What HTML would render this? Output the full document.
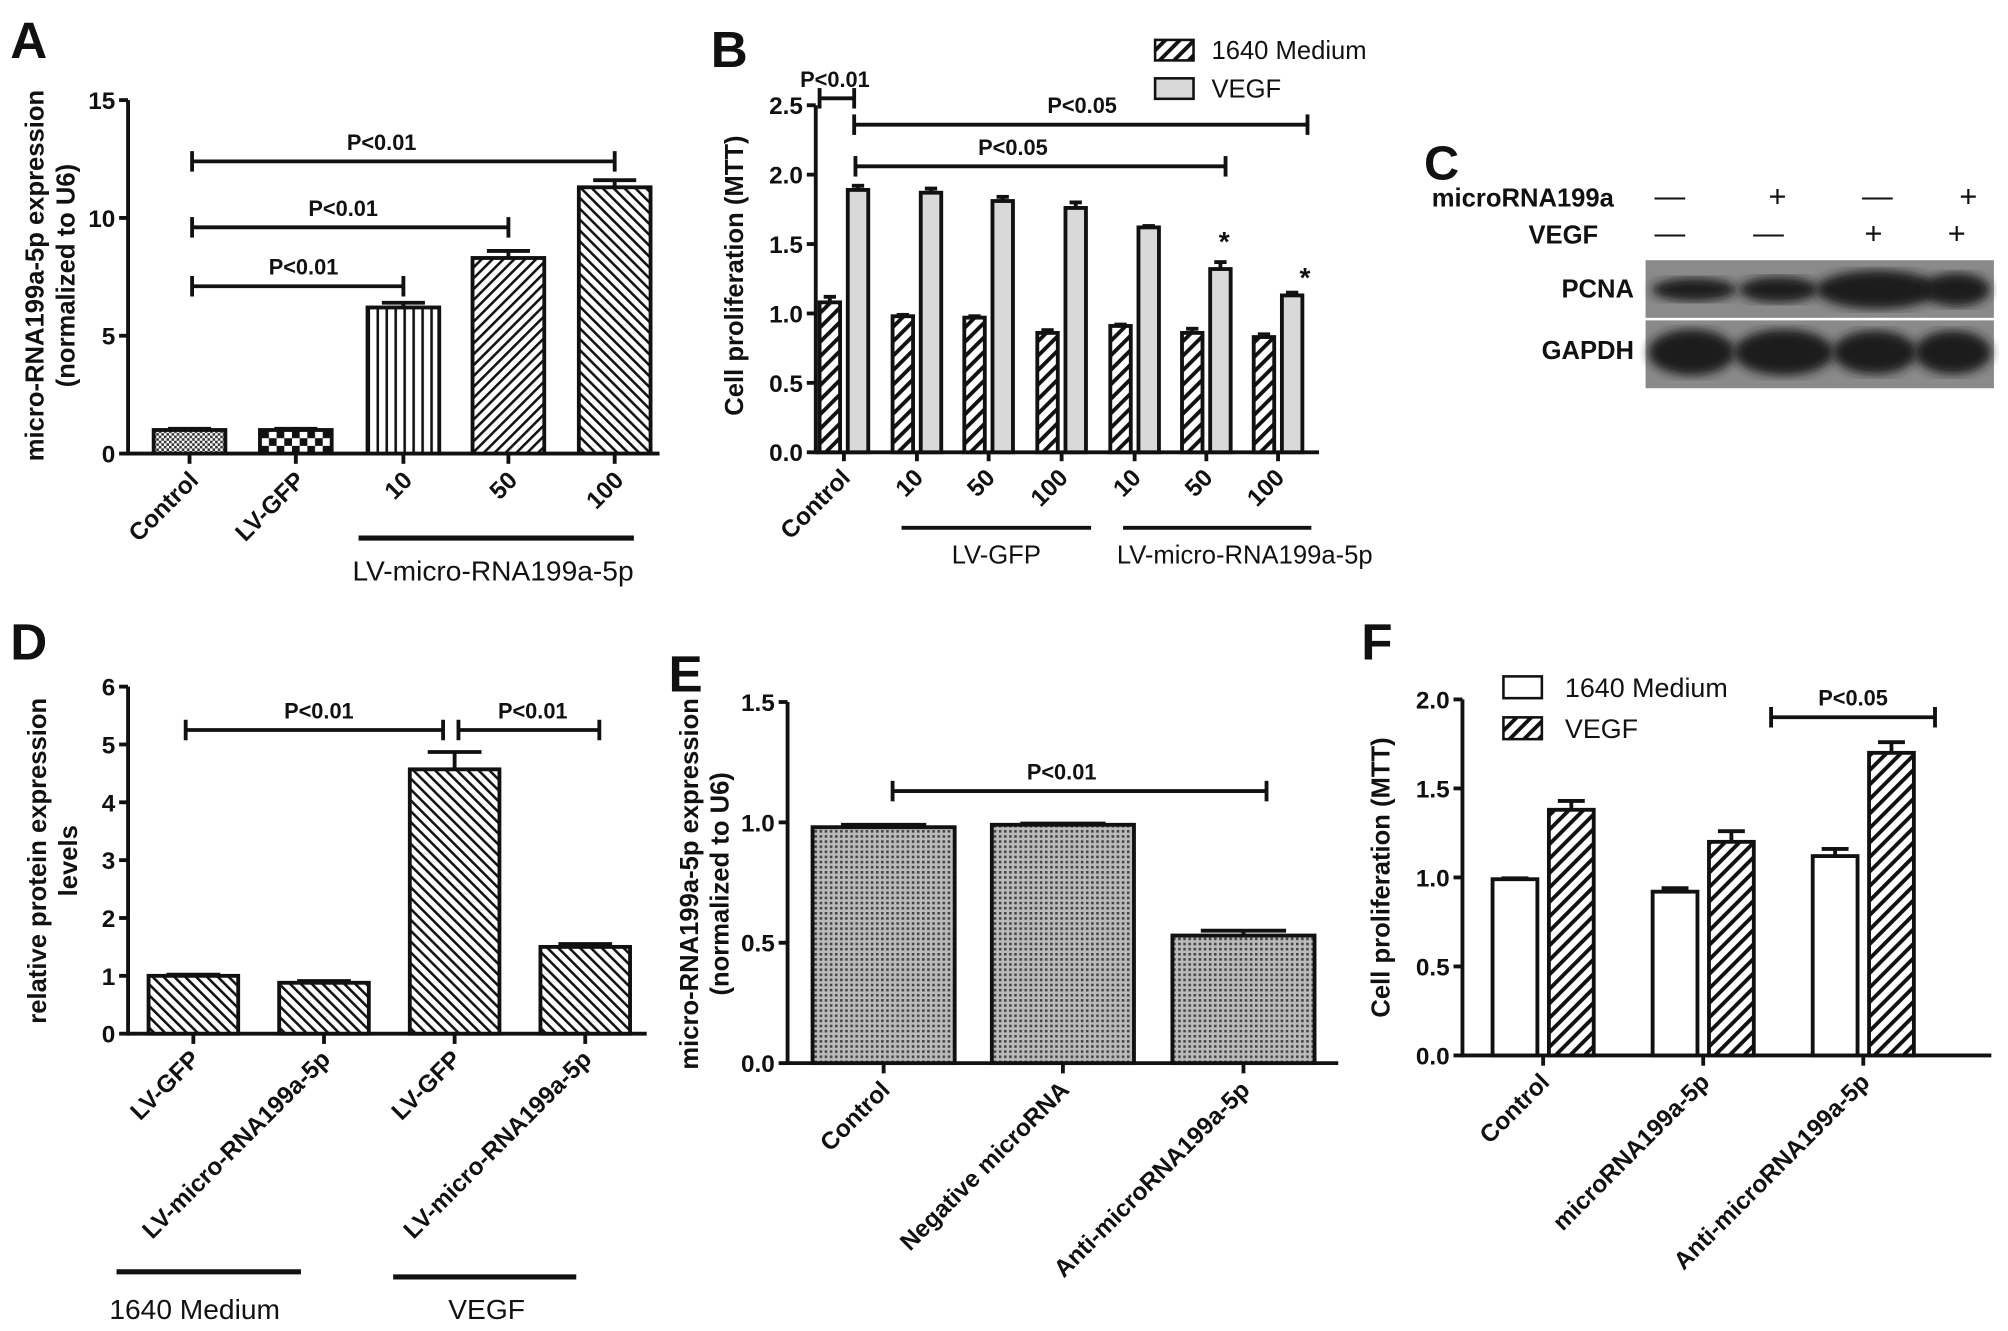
<!DOCTYPE html>
<html><head><meta charset="utf-8"><style>html,body{margin:0;padding:0;background:#fff}svg{display:block}text{font-family:"Liberation Sans",Arial,sans-serif}</style></head>
<body>
<svg id="fig" width="2008" height="1331" viewBox="0 0 1568 1039" xmlns="http://www.w3.org/2000/svg">
<defs>
<pattern id="pChk" width="4" height="4" patternUnits="userSpaceOnUse"><rect width="4" height="4" fill="#fff"/><rect width="2" height="2" fill="#333"/><rect x="2" y="2" width="2" height="2" fill="#333"/></pattern>
<pattern id="pBig" width="12" height="12" patternUnits="userSpaceOnUse"><rect width="12" height="12" fill="#fff"/><rect width="6" height="6" fill="#111"/><rect x="6" y="6" width="6" height="6" fill="#111"/></pattern>
<pattern id="pVert" width="7" height="7" patternUnits="userSpaceOnUse"><rect width="7" height="7" fill="#fff"/><rect width="2" height="7" fill="#111"/></pattern>
<pattern id="pD1" width="6" height="6" patternUnits="userSpaceOnUse" patternTransform="rotate(45)"><rect width="6" height="6" fill="#fff"/><rect width="2" height="6" fill="#111"/></pattern>
<pattern id="pD2" width="6" height="6" patternUnits="userSpaceOnUse" patternTransform="rotate(-45)"><rect width="6" height="6" fill="#fff"/><rect width="2" height="6" fill="#111"/></pattern>
<pattern id="pD3" width="8" height="8" patternUnits="userSpaceOnUse" patternTransform="rotate(45)"><rect width="8" height="8" fill="#fff"/><rect width="3" height="8" fill="#111"/></pattern>
<pattern id="pE" width="4" height="4" patternUnits="userSpaceOnUse"><rect width="4" height="4" fill="#bbb"/><rect width="2" height="2" fill="#444"/></pattern>
<filter id="blur"><feGaussianBlur stdDeviation="4"/></filter>
</defs>
<g id="root"></g>
</svg>
<script>
// Panel A data
const aCats=["Control","LV-GFP","10","50","100"];
const aVals=[1,1,6.2,8.3,11.3];
const aErr=[0.05,0.05,0.2,0.3,0.3];
const aTicks=[0,5,10,15];
// Panel B data
const bCats=["Control","10","50","100","10","50","100"];
const bMedium=[1.08,0.98,0.97,0.86,0.91,0.86,0.83];
const bVEGF=[1.89,1.87,1.81,1.76,1.62,1.32,1.13];
const bMedErr=[0.04,0.01,0.01,0.02,0.01,0.03,0.02];
const bVegErr=[0.03,0.03,0.03,0.04,0.01,0.05,0.02];
const bTicks=[0,0.5,1.0,1.5,2.0,2.5];
// Panel D data
const dCats=["LV-GFP","LV-micro-RNA199a-5p","LV-GFP","LV-micro-RNA199a-5p"];
const dVals=[1,0.88,4.57,1.5];
const dErr=[0.02,0.03,0.3,0.05];
const dTicks=[0,1,2,3,4,5,6];
// Panel E data
const eCats=["Control","Negative microRNA","Anti-microRNA199a-5p"];
const eVals=[0.98,0.99,0.53];
const eErr=[0.01,0.005,0.02];
const eTicks=[0,0.5,1.0,1.5];
// Panel F data
const fCats=["Control","microRNA199a-5p","Anti-microRNA199a-5p"];
const fMedium=[0.99,0.92,1.12];
const fVEGF=[1.38,1.2,1.7];
const fMedErr=[0.005,0.02,0.04];
const fVegErr=[0.05,0.06,0.06];
const fTicks=[0,0.5,1.0,1.5,2.0];

const NS="http://www.w3.org/2000/svg";
const root=document.getElementById('root');
function mk(tag,at,parent,txt){const e=document.createElementNS(NS,tag);for(const k in at)e.setAttribute(k,at[k]);if(txt!==undefined)e.textContent=txt;(parent||root).appendChild(e);return e;}
function line(x1,y1,x2,y2,w,p,name){const e=mk('line',{x1,y1,x2,y2,stroke:'#111','stroke-width':w||3},p);

return e;}
function txt(x,y,s,size,opt,p,name){const e=mk('text',Object.assign({x,y,'font-size':size,'font-weight':'bold',fill:'#111'},opt||{}),p,s);

return e;}
function axis(o){
  const g=mk('g',{});
  
  
  const sy=v=>o.yBot-(v/o.max)*(o.yBot-o.yTop);
  line(o.x0,o.yTop,o.x0,o.yBot+1.5,3,g,'y-axis-line');
  line(o.x0,o.yBot,o.xEnd,o.yBot,3,g,'x-axis-line');
  o.ticks.forEach(t=>{const y=sy(t);line(o.x0-7,y,o.x0,y,3,g,'y-tick');
    txt(o.x0-10,y+7,o.fmt(t),19,{'text-anchor':'end'},g,'y-tick-label');});
  return {sy,g};
}
function bar(g,cx,w,v,err,sy,fill,name){
  const y=sy(v),y0=sy(0);
  const r=mk('rect',{x:cx-w/2,y,width:w,height:y0-y,fill,stroke:'#111','stroke-width':3},g);
  
  
  const ye=sy(v+err);
  line(cx,y,cx,ye,3,g,'error-bar');
  line(cx-w*0.3,ye,cx+w*0.3,ye,3,g,'error-cap');
}
function bracket(g,x1,x2,y,label,lx){
  line(x1,y,x2,y,3,g,'significance-line');
  line(x1,y-8,x1,y+8,3,g,'significance-tick');
  line(x2,y-8,x2,y+8,3,g,'significance-tick');
  txt(lx!==undefined?lx:(x1+x2)/2,y-9,label,17,{'text-anchor':'middle'},g,'significance-label');
}
function rotLabel(g,x,y,s,size){return txt(x,y,s,size||19,{'text-anchor':'end',transform:`rotate(-45 ${x} ${y})`},g,'x-tick-label');}
function ytitle(g,x,y,lines,size){lines.forEach((s,i)=>txt(x+i*24,y,s,size||20,{'text-anchor':'middle',transform:`rotate(-90 ${x+i*24} ${y})`},g,'y-axis-title'));}

// ---------- Panel A ----------
(function(){
  txt(8,45,"A",40,{},root,'panel-label-a');
  const ax=axis({name:'panel-a',x0:100,xEnd:515,yTop:78,yBot:354,max:15,ticks:aTicks,fmt:t=>String(t)});
  const g=ax.g;const cx=[148,231,315,397,480];
  const fills=['url(#pChk)','url(#pBig)','url(#pVert)','url(#pD1)','url(#pD2)'];
  aCats.forEach((c,i)=>{bar(g,cx[i],56,aVals[i],aErr[i],ax.sy,fills[i],'bar-'+c.toLowerCase());
    line(cx[i],354,cx[i],362,3,g,'x-tick');rotLabel(g,cx[i]+8,376,c,19);});
  bracket(g,150,315,ax.sy(7.1),"P<0.01",237);
  bracket(g,150,397,ax.sy(9.6),"P<0.01",268);
  bracket(g,150,480,ax.sy(12.4),"P<0.01",298);
  line(280,420,495,420,4,g,'group-line');
  txt(385,453,"LV-micro-RNA199a-5p",22,{'text-anchor':'middle','font-weight':'normal'},g,'group-label');
  ytitle(g,34,215,["micro-RNA199a-5p expression","(normalized to U6)"],20);
})();

// ---------- Panel B ----------
(function(){
  txt(555,52,"B",40,{},root,'panel-label-b');
  const ax=axis({name:'panel-b',x0:637,xEnd:1030,yTop:82,yBot:353,max:2.5,ticks:bTicks,fmt:t=>t.toFixed(1)});
  const g=ax.g;const gc=[659,716,772,829,886,942,998];
  bCats.forEach((c,i)=>{
    bar(g,gc[i]-11,16,bMedium[i],bMedErr[i],ax.sy,'url(#pD3)','bar-medium-'+i);
    bar(g,gc[i]+11,16,bVEGF[i],bVegErr[i],ax.sy,'#d9d9d9','bar-vegf-'+i);
    line(gc[i],353,gc[i],360,3,g,'x-tick');rotLabel(g,gc[i]+6,374,c,19);});
  txt(956,196,"*",22,{'text-anchor':'middle'},g,'asterisk');
  txt(1019,224,"*",22,{'text-anchor':'middle'},g,'asterisk');
  bracket(g,640,667,ax.sy(2.55),"P<0.01",652);
  bracket(g,667,1021,ax.sy(2.36),"P<0.05",845);
  bracket(g,668,957,ax.sy(2.06),"P<0.05",791);
  line(704,412,852,412,3,g,'group-line');line(877,412,1024,412,3,g,'group-line');
  txt(778,440,"LV-GFP",20,{'text-anchor':'middle','font-weight':'normal'},g,'group-label');
  txt(972,440,"LV-micro-RNA199a-5p",20,{'text-anchor':'middle','font-weight':'normal'},g,'group-label');
  ytitle(g,580,215,["Cell proliferation (MTT)"],20);
  const l1=mk('rect',{x:902,y:31,width:30,height:16,fill:'url(#pD3)',stroke:'#111','stroke-width':2},g);
  
  
  txt(946,46,"1640 Medium",20,{'font-weight':'normal'},g,'legend-entry');
  const l2=mk('rect',{x:902,y:61,width:30,height:16,fill:'#d9d9d9',stroke:'#111','stroke-width':2},g);
  
  
  txt(946,76,"VEGF",20,{'font-weight':'normal'},g,'legend-entry');
})();

// ---------- Panel C ----------
(function(){
  const g=mk('g',{});
  
  
  txt(1112,140,"C",38,{},g,'panel-label-c');
  txt(1118,161,"microRNA199a",20,{},g,'row-label');
  txt(1248,190,"VEGF",20,{'text-anchor':'end'},g,'row-label');
  txt(1276,232,"PCNA",20,{'text-anchor':'end'},g,'row-label');
  txt(1276,280,"GAPDH",20,{'text-anchor':'end'},g,'row-label');
  const m=['—','+','—','+'],v=['—','—','+','+'];
  [1304,1388,1466,1537].forEach((x,i)=>txt(x,161,m[i],24,{'text-anchor':'middle','font-weight':'normal'},g,'sign'));
  [1304,1381,1463,1528].forEach((x,i)=>txt(x,190,v[i],24,{'text-anchor':'middle','font-weight':'normal'},g,'sign'));
  const b1=mk('rect',{x:1285,y:203,width:272,height:45,fill:'#8a8a8a'},g);
  
  const b2=mk('rect',{x:1285,y:250,width:272,height:53,fill:'#8a8a8a'},g);
  
  const pc=[[1323,33,9],[1389,31,10],[1466,48,15],[1528,26,13]];
  pc.forEach(p=>{const e=mk('ellipse',{cx:p[0],cy:226,rx:p[1],ry:p[2],fill:'#1a1a1a',filter:'url(#blur)'},g);
    });
  const gp=[[1321,34,18],[1393,39,18],[1464,33,17],[1525,30,17]];
  gp.forEach(p=>{const e=mk('ellipse',{cx:p[0],cy:275,rx:p[1],ry:p[2],fill:'#1a1a1a',filter:'url(#blur)'},g);
    });
})();

// ---------- Panel D ----------
(function(){
  txt(8,515,"D",40,{},root,'panel-label-d');
  const ax=axis({name:'panel-d',x0:100,xEnd:505,yTop:536,yBot:807,max:6,ticks:dTicks,fmt:t=>String(t)});
  const g=ax.g;const cx=[151,253,355,457];
  dCats.forEach((c,i)=>{bar(g,cx[i],70,dVals[i],dErr[i],ax.sy,'url(#pD2)','bar-d-'+i);
    line(cx[i],807,cx[i],815,3,g,'x-tick');rotLabel(g,cx[i]+6,828,c,19);});
  bracket(g,145,346,ax.sy(5.25),"P<0.01",249);
  bracket(g,358,468,ax.sy(5.25),"P<0.01",416);
  line(91,993,235,993,4,g,'group-line');line(307,997,450,997,4,g,'group-line');
  txt(152,1030,"1640 Medium",22,{'text-anchor':'middle','font-weight':'normal'},g,'group-label');
  txt(380,1030,"VEGF",22,{'text-anchor':'middle','font-weight':'normal'},g,'group-label');
  ytitle(g,36,672,["relative protein expression","levels"],20);
})();

// ---------- Panel E ----------
(function(){
  txt(522,540,"E",40,{},root,'panel-label-e');
  const ax=axis({name:'panel-e',x0:615,xEnd:1045,yTop:548,yBot:830,max:1.5,ticks:eTicks,fmt:t=>t.toFixed(1)});
  const g=ax.g;const cx=[690,830,971];
  eCats.forEach((c,i)=>{bar(g,cx[i],111,eVals[i],eErr[i],ax.sy,'url(#pE)','bar-e-'+i);
    line(cx[i],830,cx[i],838,3,g,'x-tick');rotLabel(g,cx[i]+6,852,c,19);});
  bracket(g,697,989,ax.sy(1.13),"P<0.01",829);
  ytitle(g,545,690,["micro-RNA199a-5p expression","(normalized to U6)"],20);
})();

// ---------- Panel F ----------
(function(){
  txt(1063,515,"F",40,{},root,'panel-label-f');
  const ax=axis({name:'panel-f',x0:1142,xEnd:1555,yTop:546,yBot:824,max:2.0,ticks:fTicks,fmt:t=>t.toFixed(1)});
  const g=ax.g;const gc=[1205,1330,1455];
  fCats.forEach((c,i)=>{
    bar(g,gc[i]-22,35,fMedium[i],fMedErr[i],ax.sy,'#fff','bar-f-medium-'+i);
    bar(g,gc[i]+22,35,fVEGF[i],fVegErr[i],ax.sy,'url(#pD3)','bar-f-vegf-'+i);
    line(gc[i],824,gc[i],832,3,g,'x-tick');rotLabel(g,gc[i]+6,846,c,19);});
  bracket(g,1383,1511,ax.sy(1.9),"P<0.05",1447);
  ytitle(g,1085,685,["Cell proliferation (MTT)"],20);
  const l1=mk('rect',{x:1174,y:528,width:30,height:17,fill:'#fff',stroke:'#111','stroke-width':2},g);
  
  txt(1222,544,"1640 Medium",21,{'font-weight':'normal'},g,'legend-entry');
  const l2=mk('rect',{x:1174,y:560,width:30,height:17,fill:'url(#pD3)',stroke:'#111','stroke-width':2},g);
  
  txt(1222,576,"VEGF",21,{'font-weight':'normal'},g,'legend-entry');
})();
</script>
</body></html>
